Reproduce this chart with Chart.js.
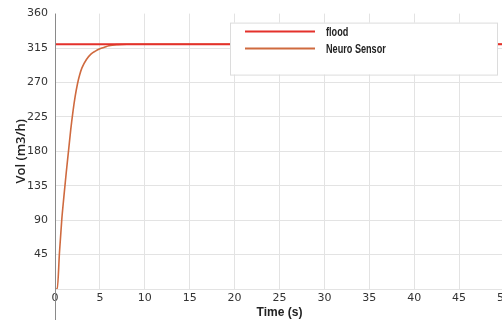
<!DOCTYPE html>
<html>
<head>
<meta charset="utf-8">
<script src="https://cdn.jsdelivr.net/npm/chart.js@4/dist/chart.umd.min.js"></script>
<style>
html, body { margin: 0; padding: 0; background: #fff; overflow: hidden; width: 502px; height: 320px; }
#wrap { position: relative; width: 514px; height: 320px; }
</style>
</head>
<body>
<div id="wrap"><canvas id="grafico" width="514" height="320"></canvas></div>
<script>
// Datos
const tiempo = [0, 0.25, 0.5, 0.75, 1.0, 1.25, 1.5, 1.75, 2.0, 2.25, 2.5, 2.75, 3.0, 3.5, 4.0, 4.5, 5.0, 5.5, 6.0, 7.0, 8.0, 50];
const neuroSensor = [0, 0, 48, 90, 122, 152, 180, 208, 232, 252, 268, 280, 289, 300, 307, 311, 314, 316, 318, 319.5, 320, 320];
const tiempoFlood = [0, 50];
const flood = [320, 320];
const etiquetas = ['flood', 'Neuro Sensor'];
const colores = ['#e4312b', '#cf6a3f'];

const familia = "'DejaVu Sans', sans-serif";

// Eje vertical y leyenda dentro del área
const extras = {
    id: 'extras',
    afterDatasetsDraw(chart) {
        const { ctx, chartArea } = chart;
        ctx.save();
        ctx.strokeStyle = '#8a8a8a';
        ctx.lineWidth = 1;
        ctx.beginPath();
        ctx.moveTo(Math.round(chartArea.left) + 0.5, chartArea.top);
        ctx.lineTo(Math.round(chartArea.left) + 0.5, chart.height);
        ctx.stroke();

        // Leyenda
        const bx = chartArea.left + 175, by = chartArea.top + 9, bw = 267, bh = 52;
        ctx.fillStyle = '#fff';
        ctx.fillRect(bx, by, bw, bh);
        ctx.strokeStyle = '#dcdcdc';
        ctx.strokeRect(bx + 0.5, by + 0.5, bw, bh);
        ctx.font = "bold 12px 'Liberation Sans', sans-serif";
        ctx.textBaseline = 'middle';
        etiquetas.forEach((txt, i) => {
            const y = by + 9 + i * 17;
            ctx.strokeStyle = colores[i];
            ctx.lineWidth = 2;
            ctx.beginPath();
            ctx.moveTo(bx + 15, y);
            ctx.lineTo(bx + 85, y);
            ctx.stroke();
            ctx.fillStyle = '#222';
            ctx.save();
            ctx.translate(bx + 96, y + 1);
            ctx.scale(0.76, 1);
            ctx.fillText(txt, 0, 0);
            ctx.restore();
        });
        ctx.restore();
    }
};

const ctx = document.getElementById('grafico').getContext('2d');
new Chart(ctx, {
    type: 'line',
    data: {
        datasets: [{
            label: etiquetas[0],
            data: tiempoFlood.map((t, i) => ({ x: t, y: flood[i] })),
            borderColor: colores[0],
            borderWidth: 2,
            pointRadius: 0
        }, {
            label: etiquetas[1],
            data: tiempo.map((t, i) => ({ x: t, y: neuroSensor[i] })),
            borderColor: colores[1],
            borderWidth: 1.6,
            pointRadius: 0,
            cubicInterpolationMode: 'monotone'
        }]
    },
    options: {
        responsive: false,
        animation: false,
        layout: { padding: { left: 13, top: 9, right: 10, bottom: 0 } },
        plugins: {
            legend: { display: false },
            tooltip: { enabled: false }
        },
        scales: {
            x: {
                type: 'linear',
                min: 0,
                max: 50,
                ticks: { stepSize: 5, padding: 3, color: '#333', font: { family: familia, size: 11 } },
                grid: { color: '#e3e3e3', drawTicks: false },
                border: { display: false },
                title: { display: true, text: 'Time (s)', color: '#222', padding: 0, font: { family: "'Liberation Sans', sans-serif", size: 12, weight: 'bold' } },
                afterFit: s => { s.height = 31; }
            },
            y: {
                min: 0,
                max: 360,
                ticks: {
                    stepSize: 45,
                    padding: 7,
                    color: '#333',
                    font: { family: familia, size: 11 },
                    callback: v => v === 0 ? '' : v
                },
                grid: { color: c => c.tick && c.tick.value === 360 ? 'rgba(0,0,0,0)' : '#e3e3e3', drawTicks: false },
                border: { display: false },
                title: { display: true, text: 'Vol (m3/h)', color: '#222', padding: 0, font: { family: "'Open Sans', sans-serif", size: 13, weight: '600' } },
                afterFit: s => { s.width = 42; }
            }
        }
    },
    plugins: [extras]
});
</script>
</body>
</html>
